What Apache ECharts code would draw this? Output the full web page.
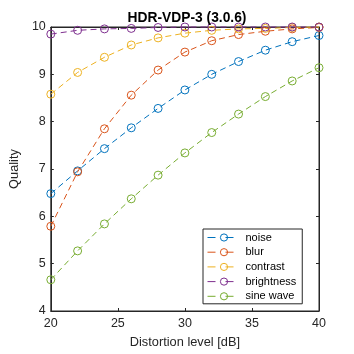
<!DOCTYPE html>
<html>
<head>
<meta charset="utf-8">
<script src="https://cdn.jsdelivr.net/npm/echarts@6/dist/echarts.min.js"></script>
<style>
  html, body { margin: 0; padding: 0; background: #fff; }
  #main { width: 354px; height: 354px; }
</style>
</head>
<body>
<div id="main"></div>
<script>
var levels = [20, 22, 24, 26, 28, 30, 32, 34, 36, 38, 40];
var noise = [6.48, 6.96, 7.43, 7.87, 8.28, 8.67, 9.0, 9.27, 9.51, 9.69, 9.82];
var blur = [5.79, 6.94, 7.85, 8.56, 9.09, 9.47, 9.71, 9.84, 9.91, 9.96, 9.99];
var contrast = [8.58, 9.04, 9.36, 9.62, 9.77, 9.87, 9.93, 9.96, 9.97, 9.99, 10.0];
var brightness = [9.85, 9.93, 9.96, 9.97, 9.99, 10.0, 10.0, 10.0, 10.0, 10.0, 10.0];
var sineWave = [4.66, 5.27, 5.84, 6.37, 6.87, 7.34, 7.77, 8.16, 8.53, 8.86, 9.14];

var seriesNames = ['noise', 'blur', 'contrast', 'brightness', 'sine wave'];
var seriesData = [noise, blur, contrast, brightness, sineWave];
var colors = ['#0072BD', '#D95319', '#EDB120', '#7E2F8E', '#77AC30'];

var font = 'Liberation Sans, Arial, sans-serif';
var axisColor = '#262626';

var chartDom = document.getElementById('main');
var myChart = echarts.init(chartDom);

function pairs(ys) {
  return levels.map(function (x, i) { return [x, ys[i]]; });
}

var series = seriesNames.map(function (name, i) {
  return {
    name: name,
    type: 'line',
    data: pairs(seriesData[i]),
    clip: false,
    symbol: 'circle',
    symbolSize: 8,
    itemStyle: { color: 'transparent', borderColor: colors[i], borderWidth: 1 },
    lineStyle: { color: colors[i], width: 1, type: [6, 4] },
    emphasis: { disabled: true }
  };
});

var option = {
  animation: false,
  color: colors,
  title: {
    text: 'HDR-VDP-3 (3.0.6)',
    left: 182,
    textAlign: 'center',
    top: 6,
    textStyle: { fontFamily: font, fontSize: 13.8, fontWeight: 'bold', color: '#000' }
  },
  grid: {
    left: 46, right: 35, top: 27, bottom: 40,
    show: true, borderColor: axisColor, borderWidth: 1
  },
  legend: {
    orient: 'vertical',
    left: 203,
    top: 229,
    width: 97,
    padding: [3, 6, 2, 4],
    itemWidth: 33,
    itemHeight: 9,
    itemGap: 3.7,
    borderColor: axisColor,
    borderWidth: 1,
    backgroundColor: '#fff',
    itemStyle: { borderWidth: 1 },
    lineStyle: { width: 1, type: [8, 10] },
    textStyle: { fontFamily: font, fontSize: 11, color: '#000', lineHeight: 10 },
    data: seriesNames
  },
  xAxis: [{
    type: 'value', min: 20, max: 40, interval: 5,
    name: 'Distortion level [dB]', nameLocation: 'middle', nameGap: 25,
    nameTextStyle: { fontFamily: font, fontSize: 12.8, color: axisColor },
    axisLine: { show: true, lineStyle: { color: axisColor } },
    axisTick: { inside: true, length: 3, lineStyle: { color: axisColor } },
    axisLabel: { fontFamily: font, fontSize: 12.5, color: axisColor, margin: 6 },
    splitLine: { show: false }
  }, {
    type: 'value', min: 20, max: 40, interval: 5, position: 'top',
    axisLine: { show: true, lineStyle: { color: axisColor } },
    axisTick: { inside: true, length: 3, lineStyle: { color: axisColor } },
    axisLabel: { show: false },
    splitLine: { show: false }
  }],
  yAxis: [{
    type: 'value', min: 4, max: 10, interval: 1,
    name: 'Quality', nameLocation: 'middle', nameGap: 22,
    nameTextStyle: { fontFamily: font, fontSize: 12.8, color: axisColor },
    axisLine: { show: true, lineStyle: { color: axisColor } },
    axisTick: { inside: true, length: 3, lineStyle: { color: axisColor } },
    axisLabel: { fontFamily: font, fontSize: 12.5, color: axisColor, margin: 5 },
    splitLine: { show: false }
  }, {
    type: 'value', min: 4, max: 10, interval: 1, position: 'right',
    axisLine: { show: true, lineStyle: { color: axisColor } },
    axisTick: { inside: true, length: 3, lineStyle: { color: axisColor } },
    axisLabel: { show: false },
    splitLine: { show: false }
  }],
  series: series
};

option && myChart.setOption(option);
</script>
</body>
</html>
